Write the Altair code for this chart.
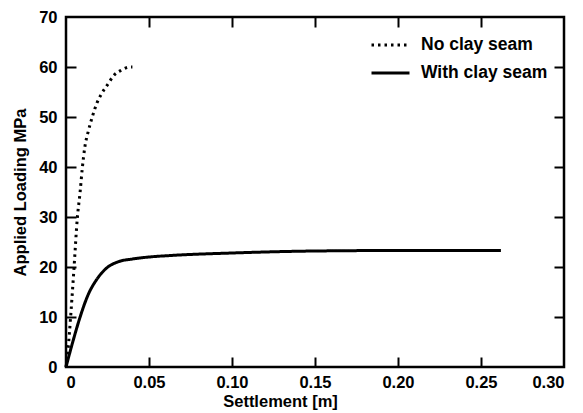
import altair as alt
import pandas as pd

# Settlement [m] / Applied loading [MPa]
no_clay_x = [0, 0.0012, 0.0028, 0.0048, 0.0068, 0.0085, 0.0098, 0.0114, 0.0134, 0.016, 0.0185, 0.0215, 0.0255, 0.0285, 0.0335, 0.0386, 0.040]
no_clay_y = [0, 3.4, 10.1, 19.7, 29.7, 35, 39.7, 44.1, 47.1, 50.2, 52.7, 54.7, 56.7, 58.2, 59.4, 60, 60]
with_clay_x = [0, 0.0044, 0.0085, 0.0134, 0.0185, 0.0245, 0.031, 0.040, 0.05, 0.063, 0.10, 0.15, 0.20, 0.262]
with_clay_y = [0, 5.4, 10, 14.5, 17.5, 19.8, 21.0, 21.6, 22.0, 22.3, 22.8, 23.2, 23.3, 23.3]
series = ["No clay seam", "With clay seam"]
x_ticks = [0, 0.05, 0.10, 0.15, 0.20, 0.25, 0.30]
y_ticks = [0, 10, 20, 30, 40, 50, 60, 70]

df = pd.concat([
    pd.DataFrame({"x": no_clay_x, "y": no_clay_y, "series": series[0]}),
    pd.DataFrame({"x": with_clay_x, "y": with_clay_y, "series": series[1]}),
])

W, H = 498, 350
FONT = "Liberation Sans"
xscale = alt.Scale(domain=[0, 0.3], nice=False, zero=False)
yscale = alt.Scale(domain=[0, 70], nice=False)
txt = dict(labelFont=FONT, labelFontSize=16.5, labelFontWeight="bold", labelColor="black",
           titleFont=FONT, titleFontSize=16.5, titleFontWeight="bold", titleColor="black")

base = alt.Chart(df)

lines = base.mark_line(color="black", strokeWidth=3, interpolate="monotone").encode(
    x=alt.X("x:Q", scale=xscale, axis=alt.Axis(
        orient="bottom", values=x_ticks, ticks=False, domain=False, grid=False,
        labelExpr="datum.value == 0 ? '0' : format(datum.value, '.2f')",
        labelPadding=7, title="Settlement  [m]", titleX=214, titlePadding=3, **txt)),
    y=alt.Y("y:Q", scale=yscale, axis=alt.Axis(
        orient="left", values=y_ticks, ticks=False, domain=False, grid=False,
        labelPadding=9, title="Applied Loading MPa", titlePadding=10, **txt)),
    strokeDash=alt.StrokeDash("series:N", scale=alt.Scale(domain=series, range=[[2.5, 4], [1, 0]]),
                              legend=alt.Legend(title=None, orient="none", legendX=304, legendY=20,
                                                symbolType="stroke", symbolSize=1444,
                                                symbolStrokeWidth=3, symbolStrokeColor="black",
                                                labelFontSize=17.5, labelFont=FONT, labelFontWeight="bold",
                                                labelColor="black", labelOffset=10, rowPadding=10,
                                                clipHeight=16)),
)

tick_axis = dict(labels=False, domain=False, grid=False, title=None, tickSize=10, tickWidth=2, tickColor="black")

ticks_a = base.mark_line(opacity=0).encode(
    x=alt.X("x:Q", scale=xscale, axis=alt.Axis(orient="top", offset=-H, values=x_ticks[1:-1], **tick_axis)),
    y=alt.Y("y:Q", scale=yscale, axis=alt.Axis(orient="right", offset=-W, values=y_ticks[1:-1], **tick_axis)),
)
ticks_b = base.mark_line(opacity=0).encode(
    x=alt.X("x:Q", scale=xscale, axis=alt.Axis(orient="bottom", offset=-H, values=x_ticks[1:-1], **tick_axis)),
    y=alt.Y("y:Q", scale=yscale, axis=alt.Axis(orient="left", offset=-W, values=y_ticks[1:-1], **tick_axis)),
)

chart = alt.layer(lines, ticks_a, ticks_b).resolve_axis(x="independent", y="independent").properties(
    width=W, height=H, autosize=alt.AutoSizeParams(type="none"),
    padding={"left": 58, "top": 9, "right": 10, "bottom": 45},
    background="white",
).configure_view(stroke="black", strokeWidth=2.5)

chart.save("out.html", embed_options={"renderer": "svg", "actions": False})
